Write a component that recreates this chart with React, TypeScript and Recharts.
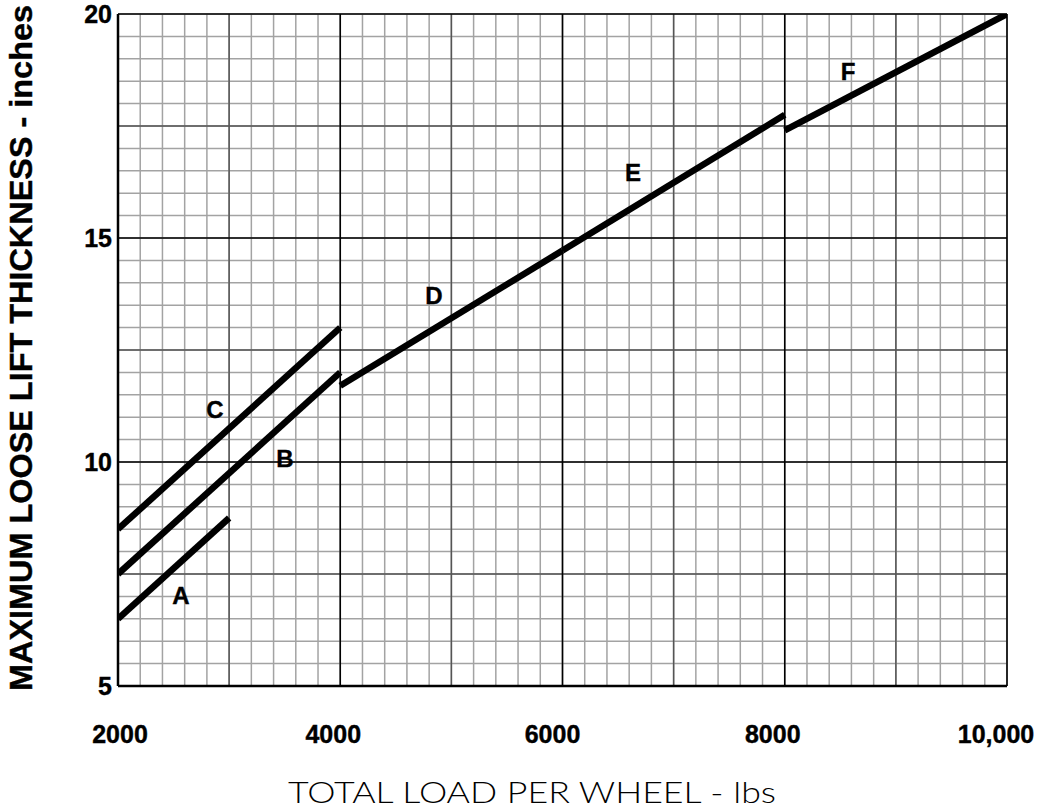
import React from 'react';
import { ComposedChart, Line, Scatter, XAxis, YAxis, CartesianGrid, Label } from 'recharts';

const xTicks = [2000, 4000, 6000, 8000, 10000];
const xTickLabels = ['2000', '4000', '6000', '8000', '10,000'];
const xTickShift = [2, -7, -10, -12, -11];
const yTicks = [5, 10, 15, 20];

const lineA = [{ x: 2000, y: 6.5 }, { x: 3000, y: 8.75 }];
const lineB = [{ x: 2000, y: 7.5 }, { x: 4000, y: 12.0 }];
const lineC = [{ x: 2000, y: 8.5 }, { x: 4000, y: 13.0 }];
const lineD = [{ x: 4000, y: 11.7 }, { x: 6000, y: 14.72 }];
const lineE = [{ x: 6000, y: 14.72 }, { x: 8000, y: 17.75 }];
const lineF = [{ x: 8000, y: 17.4 }, { x: 10000, y: 20 }];

const curveLabels = [
  { x: 2567, y: 7.03, t: 'A' },
  { x: 3503, y: 10.09, t: 'B' },
  { x: 2873, y: 11.18, t: 'C' },
  { x: 4844, y: 13.73, t: 'D' },
  { x: 6634, y: 16.47, t: 'E' },
  { x: 8569, y: 18.73, t: 'F' },
];

const minorX: number[] = [];
for (let v = 2000; v <= 10000; v += 200) minorX.push(v);
const minorY: number[] = [];
for (let v = 5; v <= 20.001; v += 0.5) minorY.push(Math.round(v * 10) / 10);
const mediumX = [3000, 5000, 7000, 9000];
const mediumY = [7.5, 12.5, 17.5];
const majorX = [2000, 4000, 6000, 8000, 10000];
const majorY = [5, 10, 15, 20];

const FONT = '"Liberation Sans", Arial, sans-serif';

const XTick = (props: any) => {
  const { x, payload } = props;
  const i = xTicks.indexOf(payload.value);
  return (
    <text x={x + (xTickShift[i] ?? 0)} y={743} textAnchor="middle" fontFamily={FONT} fontWeight="bold" fontSize={25} fill="#000" stroke="#000" strokeWidth={0.4}>
      {xTickLabels[i] ?? String(payload.value)}
    </text>
  );
};

const YTick = (props: any) => {
  const { x, y, payload } = props;
  return (
    <text x={x} y={y} dy="0.36em" textAnchor="end" fontFamily={FONT} fontWeight="bold" fontSize={25} fill="#000" stroke="#000" strokeWidth={0.4}>
      {payload.value}
    </text>
  );
};

const LetterShape = (props: any) => {
  const { cx, cy, payload } = props;
  return (
    <text x={cx} y={cy} dy="0.36em" textAnchor="middle" fontFamily={FONT} fontWeight="bold" fontSize={24} fill="#000" stroke="#000" strokeWidth={0.4}>
      {payload.t}
    </text>
  );
};

const series = [lineA, lineB, lineC, lineD, lineE, lineF];

export default function App() {
  return (
    <div style={{ position: 'absolute', left: 0, top: 0, background: '#fff' }}>
      <ComposedChart width={1037} height={810} margin={{ top: 14, right: 30, bottom: 0, left: 0 }}>
        <CartesianGrid horizontalValues={minorY} verticalValues={minorX} stroke="#a3a3a3" strokeWidth={1.5} fill="none" syncWithTicks={false} />
        <CartesianGrid horizontalValues={mediumY} verticalValues={mediumX} stroke="#555" strokeWidth={1.5} fill="none" syncWithTicks={false} />
        <CartesianGrid horizontalValues={majorY} verticalValues={majorX} stroke="#000" strokeWidth={1.6} fill="none" syncWithTicks={false} />
        <XAxis
          type="number"
          dataKey="x"
          domain={[2000, 10000]}
          ticks={xTicks}
          allowDataOverflow
          height={124}
          tickLine={false}
          tickSize={0}
          axisLine={{ stroke: '#000', strokeWidth: 2.5 }}
          tick={<XTick />}
          interval={0}
        >
          <Label
            content={() => (
              <text x={532} y={803} textAnchor="middle" fontFamily='Lato, "Open Sans", sans-serif' fontWeight={300} fontSize={29} fill="#000" textLength={488} lengthAdjust="spacingAndGlyphs">
                TOTAL LOAD PER WHEEL - lbs
              </text>
            )}
          />
        </XAxis>
        <YAxis
          type="number"
          dataKey="y"
          domain={[5, 20]}
          ticks={yTicks}
          allowDataOverflow
          width={118}
          tickLine={false}
          tickSize={0}
          tickMargin={6}
          axisLine={{ stroke: '#000', strokeWidth: 2.5 }}
          tick={<YTick />}
          interval={0}
        >
          <Label
            content={() => (
              <text
                x={0}
                y={0}
                transform="translate(32,348) rotate(-90)"
                textAnchor="middle"
                fontFamily={FONT}
                fontWeight="bold"
                fontSize={31}
                fill="#000"
                stroke="#000"
                strokeWidth={0.4}
                textLength={686}
                lengthAdjust="spacingAndGlyphs"
              >
                MAXIMUM LOOSE LIFT THICKNESS - inches
              </text>
            )}
          />
        </YAxis>
        {series.map((d, i) => (
          <Line
            key={i}
            data={d}
            dataKey="y"
            type="linear"
            stroke="#000"
            strokeWidth={6.5}
            strokeLinecap="butt"
            dot={false}
            activeDot={false}
            isAnimationActive={false}
            legendType="none"
          />
        ))}
        <Scatter data={curveLabels} dataKey="y" shape={<LetterShape />} isAnimationActive={false} legendType="none" />
      </ComposedChart>
    </div>
  );
}
